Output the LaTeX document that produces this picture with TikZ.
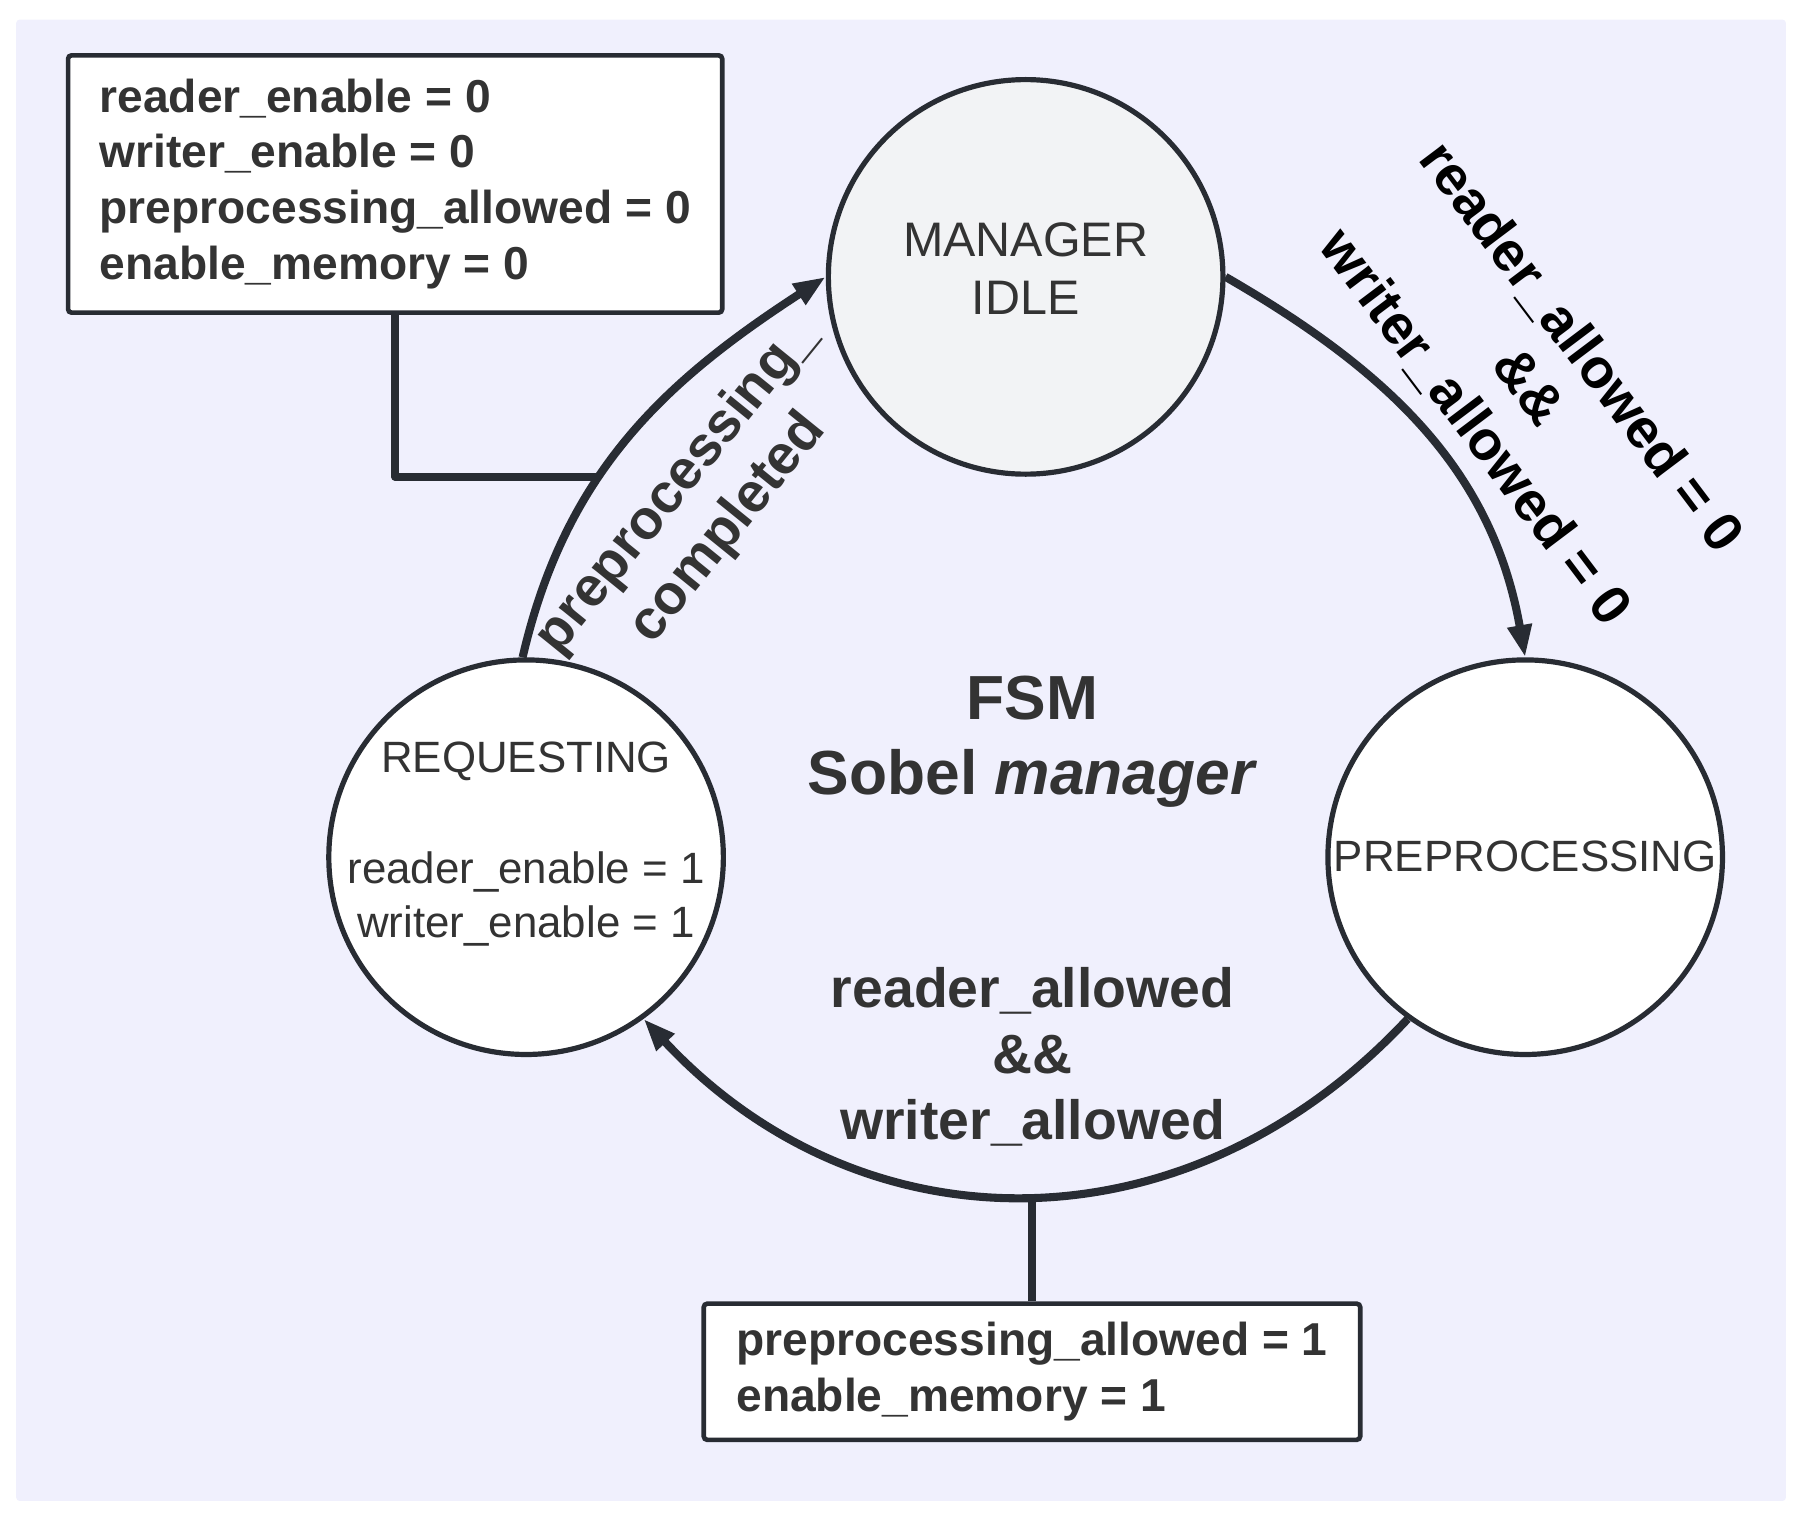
\documentclass[tikz,border=0pt]{standalone}
\usepackage{fontspec}
\setmainfont{Liberation Sans}
\usetikzlibrary{arrows.meta}
\definecolor{bgc}{HTML}{F0F0FD}
\definecolor{strk}{HTML}{282C33}
\definecolor{txt}{HTML}{333333}
\definecolor{idlefill}{HTML}{F2F3F5}
\begin{document}
\begin{tikzpicture}[x=1pt,y=1pt,
  state/.style={circle, draw=strk, line width=4.5pt, fill=white, minimum size=342pt, inner sep=0pt},
  stxt/.style={text=txt, align=center, inner sep=0pt},
  box/.style={draw=strk, line width=4pt, fill=white, rounded corners=3pt, align=left, text=txt,
              font=\bfseries\fontsize{40}{48.5}\selectfont, inner xsep=0pt, inner ysep=0pt},
  lbl/.style={font=\bfseries\fontsize{48}{57.5}\selectfont, text=txt, align=center, inner sep=0pt},
  arc/.style={draw=strk, line width=7pt, -{Triangle[length=28pt,width=20pt]}},
  conn/.style={draw=strk, line width=6.5pt, line join=round}
]
\useasboundingbox (0,0) rectangle (1568,1318);
\fill[bgc, rounded corners=3pt] (14,17) rectangle (1548,1301);

% states
\node[state, fill=idlefill] (mi) at (889,1078) {};
\node[state] (pp) at (1322,575) {};
\node[state] (rq) at (456,575) {};

% transitions
\draw[arc] (mi.0) to[out=-30,in=100] (pp.90);
\draw[arc] (pp.234) to[out=227,in=-47,looseness=1.08] coordinate[pos=0.5] (j2) (rq.306);
\draw[arc] (rq.91) to[out=77,in=-147] coordinate[pos=0.39] (j1) (mi.180);

% output boxes
\node[box, minimum width=567pt, minimum height=223pt] (b1) at (342.5,1158.5)
  {reader\_enable = 0\\writer\_enable = 0\\preprocessing\_allowed = 0\\enable\_memory = 0};
\node[box, minimum width=569pt, minimum height=118pt] (b2) at (894.5,129)
  {preprocessing\_allowed = 1\\enable\_memory = 1};

\draw[conn] (b1.south) |- (j1);
\draw[conn] (b2.north) -- (b2.north |- j2);

% state texts
\node[stxt, font=\fontsize{42}{50}\selectfont] (mitxt) at (889,1085) {MANAGER\\IDLE};
\node[stxt, font=\fontsize{38}{46}\selectfont] (pptxt) at (1322,576) {PREPROCESSING};
\node[stxt, font=\fontsize{38}{47}\selectfont] (rqtxt) at (456,586)
  {REQUESTING\\[49pt]reader\_enable = 1\\writer\_enable = 1};

% labels
\node[lbl, font=\bfseries\fontsize{54}{65}\selectfont] (title) at (895,675) {FSM\\Sobel \textit{manager}};
\node[lbl] (lbot) at (895,402) {reader\_allowed\\\&\&\\writer\_allowed};
\node[lbl, text=black, rotate=-53] (ltr) at (1324,982) {reader\_allowed = 0\\\&\&\\writer\_allowed = 0};
\node[lbl, rotate=51] (ltl) at (609,878) {preprocessing\_\\completed};
\end{tikzpicture}
\end{document}
